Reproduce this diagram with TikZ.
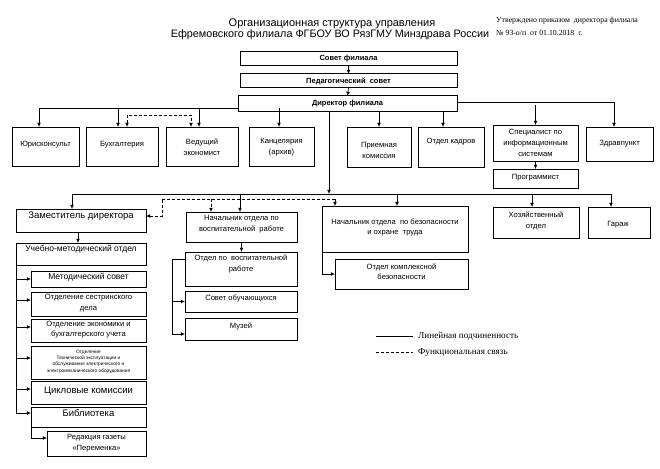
\documentclass[tikz,border=0pt]{standalone}
\usepackage{fontspec}
\setmainfont{Liberation Sans}
\newfontfamily\legfont{Liberation Serif}
\usetikzlibrary{arrows.meta}
\newcommand\bx[5]{\node[box,anchor=north west,minimum width={(#4-#2)*1pt},minimum height={(#5-#3)*1pt}] (#1) at (#2,#3) {};}
\begin{document}
\begin{tikzpicture}[x=1pt,y=-1pt,
  box/.style={draw,line width=1pt,inner sep=0,outer sep=0,rectangle},
  conn/.style={line width=0.65pt},
  arr/.style={conn,-{Latex[length=4.2pt,width=3.8pt]}},
  dsh/.style={conn,dash pattern=on 3pt off 2pt},
  tx/.style={inner sep=0,align=center,font=\fontsize{7.6}{11}\selectfont},
  txb/.style={tx,font=\fontsize{7.5}{11}\selectfont\bfseries},
  txm/.style={inner sep=0,align=center,font=\fontsize{8.5}{10}\selectfont},
  txl/.style={inner sep=0,align=center,font=\fontsize{9.5}{11}\selectfont},
  txs/.style={inner sep=0,align=center,font=\fontsize{4.8}{6.3}\selectfont},
  lg/.style={inner sep=0,anchor=west,font=\legfont\fontsize{9.2}{10}\selectfont}]
\useasboundingbox (0,0) rectangle (660,468);
% title
\node[inner sep=0,font=\fontsize{11}{11}\selectfont] (title1) at (332,24) {Организационная структура управления};
\node[inner sep=0,font=\fontsize{10.8}{11}\selectfont] (title2) at (330,35) {Ефремовского филиала ФГБОУ ВО РязГМУ Минздрава России};
\node[inner sep=0,anchor=west,font=\legfont\fontsize{7.8}{8}\selectfont] (appr1) at (496,21) {Утверждено приказом\ \ директора филиала};
\node[inner sep=0,anchor=west,font=\legfont\fontsize{7.8}{8}\selectfont] (appr2) at (496,33) {№ 93-о/п\ \ от 01.10.2018\ \ г.};
% boxes
\bx{sovet}{240}{52}{457}{66}
\bx{ped}{240}{74}{457}{88}
\bx{dir}{238}{96}{457}{111}
\bx{yur}{12}{127}{79}{166}
\bx{buh}{86}{127}{158}{166}
\bx{ved}{166}{127}{238}{166}
\bx{kanc}{249}{127}{314}{166}
\bx{priem}{347}{127}{411}{167}
\bx{kadr}{418}{127}{484}{167}
\bx{spec}{493}{125}{578}{161}
\bx{prog}{493}{169}{578}{188}
\bx{zdrav}{586}{127}{653}{161}
\bx{zam}{16}{209}{146}{232}
\bx{uch}{16}{243}{146}{265}
\bx{metod}{31}{271}{146}{287}
\bx{sestr}{31}{292}{146}{316}
\bx{econ}{31}{319}{146}{342}
\bx{tech}{31}{346}{146}{379}
\bx{cikl}{31}{381}{146}{404}
\bx{bibl}{31}{407}{146}{427}
\bx{red}{47}{431}{146}{456}
\bx{nvos}{186}{212}{297}{242}
\bx{ovos}{185}{252}{297}{286}
\bx{sovob}{185}{291}{297}{312}
\bx{muz}{185}{318}{297}{340}
\bx{nbez}{322}{206}{468}{252}
\bx{okb}{335}{259}{468}{289}
\bx{hoz}{493}{207}{579}{238}
\bx{gar}{588}{207}{650}{238}
% texts
\node[txb] (sovet-t) at (348.5,59) {Совет филиала};
\node[txb] (ped-t) at (348.5,81) {Педагогический\ \ совет};
\node[txb] (dir-t) at (347.5,103.5) {Директор филиала};
\node[tx] (yur-t) at (45.5,145) {Юрисконсульт};
\node[tx] (buh-t) at (122,145) {Бухгалтерия};
\node[tx] (ved-t) at (202,147.5) {Ведущий\\экономист};
\node[tx] (kanc-t) at (281.5,147.5) {Канцелярия\\(архив)};
\node[tx] (priem-t) at (379,150) {Приемная\\комиссия};
\node[tx] (kadr-t) at (451,142) {Отдел кадров};
\node[tx] (spec-t) at (535.5,143) {Специалист по\\информационным\\системам};
\node[tx] (zdrav-t) at (619.5,144) {Здравпункт};
\node[tx] (prog-t) at (535.5,178) {Программист};
\node[txl] (zam-t) at (81,216) {Заместитель директора};
\node[txm] (uch-t) at (81,249) {Учебно-методический отдел};
\node[txm] (metod-t) at (88.5,277) {Методический совет};
\node[tx] (sestr-t) at (88.5,303.5) {Отделение сестринского\\дела};
\node[tx,font=\fontsize{7.6}{9.5}\selectfont] (econ-t) at (88.5,329.5) {Отделение экономики и\\бухгалтерского учета};
\node[txs] (tech-t) at (88.5,361.5) {Отделение\\Технической эксплуатации и\\обслуживания электрического и\\электромеханического оборудования};
\node[txl] (cikl-t) at (88.5,391) {Цикловые комиссии};
\node[txl] (bibl-t) at (88.5,413) {Библиотека};
\node[tx] (red-t) at (96.5,443.5) {Редакция газеты\\«Переменка»};
\node[tx] (nvos-t) at (241.5,224.5) {Начальник отдела по\\воспитательной\ \ работе};
\node[tx] (ovos-t) at (241,263.5) {Отдел по\ \ воспитательной\\работе};
\node[tx] (sovob-t) at (241,298) {Совет обучающихся};
\node[tx] (muz-t) at (241,326) {Музей};
\node[tx,font=\fontsize{7.6}{9.5}\selectfont] (nbez-t) at (395,227.5) {Начальник отдела\ \ по безопасности\\и охране\ \ труда};
\node[tx,font=\fontsize{7.6}{10}\selectfont] (okb-t) at (401.5,272) {Отдел комплексной\\безопасности};
\node[tx] (hoz-t) at (536,221) {Хозяйственный\\отдел};
\node[tx] (gar-t) at (618,225) {Гараж};
% helper coordinates
\coordinate (hl) at (0,108);
\coordinate (hr) at (0,105);
\coordinate (hd) at (0,115);
\coordinate (hb) at (0,194);
\coordinate (dl) at (162,199);
% top chain
\draw[arr] (sovet.south) -- (ped.north);
\draw[arr] (ped.south) -- (dir.north);
% left branch from director
\draw[arr] ([yshift=-4.5pt]dir.west) -| ([xshift=-6.5pt]yur.north);
\draw[arr] ([xshift=-4pt]buh.north |- hl) -- ([xshift=-4pt]buh.north);
\draw[arr] ([xshift=-3pt]ved.north |- hl) -- ([xshift=-3pt]ved.north);
\draw[arr] ([xshift=-2.5pt]kanc.north |- hl) -- ([xshift=-2.5pt]kanc.north);
\draw[dsh,{Latex[length=4.2pt,width=3.8pt]}-{Latex[length=4.2pt,width=3.8pt]}] ([xshift=5pt]buh.north) -- ([xshift=5pt]buh.north |- hd) -| ([xshift=-11pt]ved.north);
% down to second level
\draw[arr] ([xshift=-18.5pt]dir.south) -- ([xshift=-18.5pt]dir.south |- hb);
\draw[arr] (priem.north |- dir.south) -- (priem.north);
\draw[arr] ([xshift=-8pt]kadr.north |- dir.south) -- ([xshift=-8pt]kadr.north);
% right branch
\draw[arr] ([yshift=1.5pt]dir.east) -| ([xshift=-5.5pt]zdrav.north);
\draw[arr] (spec.north |- hr) -- (spec.north);
\draw[arr] (spec.south) -- (prog.north);
% second horizontal line
\draw[conn] ([xshift=-9pt]zam.north |- hb) -- ([xshift=-8pt]gar.north |- hb);
\draw[arr] ([xshift=-9pt]zam.north |- hb) -- ([xshift=-9pt]zam.north);
\draw[arr] ([xshift=-1.5pt]nvos.north |- hb) -- ([xshift=-1.5pt]nvos.north);
\draw[arr] ([xshift=2pt]nbez.north |- hb) -- ([xshift=2pt]nbez.north);
\draw[arr] ([xshift=-4pt]hoz.north |- hb) -- ([xshift=-4pt]hoz.north);
\draw[arr] ([xshift=-8pt]gar.north |- hb) -- ([xshift=-8pt]gar.north);
% dashed functional links
\draw[dsh,{Latex[length=4.2pt,width=3.8pt]}-] ([yshift=4.5pt]zam.east) -| (dl);
\draw[dsh] (dl) -- ([xshift=-60pt]nbez.north |- dl);
\draw[dsh,-{Latex[length=4.2pt,width=3.8pt]}] ([xshift=-60pt]nbez.north |- dl) -- ([xshift=-60pt]nbez.north);
\draw[dsh,-{Latex[length=4.2pt,width=3.8pt]}] ([xshift=-30.5pt]nvos.north |- dl) -- ([xshift=-30.5pt]nvos.north);
% left column
\draw[arr] ([xshift=-3pt]zam.south) -- ([xshift=-3pt]uch.north);
\draw[conn] (uch.south west) -- ([xshift=-15pt,yshift=4pt]bibl.west);
\draw[arr] ([xshift=-15pt]metod.west) -- (metod.west);
\draw[arr] ([xshift=-15pt,yshift=4pt]sestr.west) -- ([yshift=4pt]sestr.west);
\draw[arr] ([xshift=-15pt,yshift=3.5pt]econ.west) -- ([yshift=3.5pt]econ.west);
\draw[arr] ([xshift=-15pt,yshift=4.5pt]tech.west) -- ([yshift=4.5pt]tech.west);
\draw[arr] ([xshift=-15pt,yshift=3.5pt]cikl.west) -- ([yshift=3.5pt]cikl.west);
\draw[arr] ([xshift=-15pt,yshift=4pt]bibl.west) -- ([yshift=4pt]bibl.west);
\draw[arr] (bibl.south west) |- ([yshift=5.5pt]red.west);
% middle column
\draw[arr] (nvos.south) -- (nvos.south |- ovos.north);
\draw[arr] ([yshift=10pt]ovos.west) -- ([xshift=-13pt,yshift=10pt]ovos.west) |- ([yshift=-5pt]muz.west);
\draw[arr] ([xshift=-13pt]sovob.west) -- (sovob.west);
% right column
\draw[arr] (nbez.south west) |- (okb.west);
% legend
\node[lg] (leg1) at (418,336) {Линейная подчиненность};
\node[lg] (leg2) at (418,352) {Функциональная связь};
\draw[conn] ([xshift=-42pt]leg1.west) -- ([xshift=-5pt]leg1.west);
\draw[dsh] ([xshift=-42pt]leg2.west) -- ([xshift=-5pt]leg2.west);
\end{tikzpicture}
\end{document}
